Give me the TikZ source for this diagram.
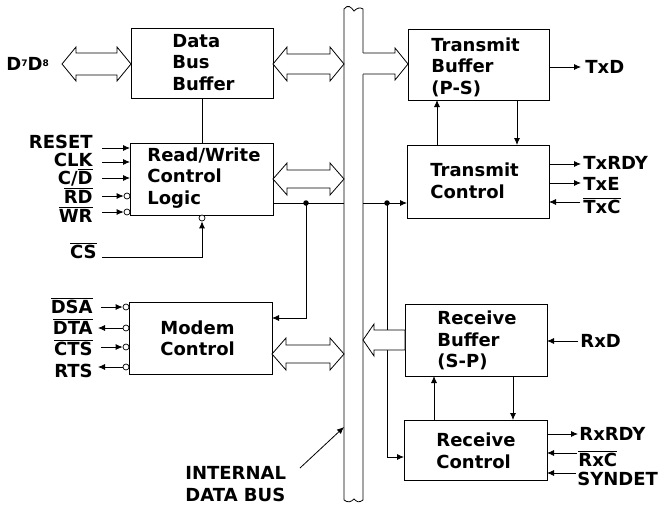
\documentclass[tikz,border=0pt]{standalone}
\usepackage{fontspec}
\setmainfont{DejaVu Sans}
\usetikzlibrary{arrows.meta}
\begin{document}
\begin{tikzpicture}[x=1pt,y=-1pt, line width=0.8pt,
  box/.style={draw, line width=1pt, anchor=north west, inner sep=0pt, outer sep=0pt},
  txt/.style={font=\fontsize{18}{21.5}\selectfont\bfseries, align=left, inner sep=0pt, anchor=west},
  lab/.style={font=\fontsize{18}{21}\selectfont\bfseries, inner sep=0pt},
  sig/.style={-{Latex[length=7pt,width=6pt]}},
  bub/.style={draw, fill=white, circle, minimum size=6pt, inner sep=0pt, line width=0.7pt},
  dot/.style={fill, circle, minimum size=5.5pt, inner sep=0pt},
  wide/.style={draw, fill=white, line width=0.8pt, line join=miter}]
\useasboundingbox (0,0) rectangle (666,506);

% boxes (named)
\node[box, minimum width=142pt, minimum height=70pt] (dbb) at (131,28) {};
\node[box, minimum width=143pt, minimum height=72pt] (rw) at (130,143) {};
\node[box, minimum width=143pt, minimum height=72pt] (mc) at (129,302) {};
\node[box, minimum width=141pt, minimum height=71pt] (tb) at (408,29) {};
\node[box, minimum width=142pt, minimum height=73pt] (tc) at (407,145) {};
\node[box, minimum width=142pt, minimum height=72pt] (rb) at (405,304) {};
\node[box, minimum width=143pt, minimum height=60pt] (rc) at (404,420) {};

% internal bus
\fill[white] (344,9) rectangle (363,500);
\draw (344,500) -- (344,9) .. controls (348,4) and (351,7) .. (354,11) .. controls (357,8) and (360,7) .. (363,9) -- (363,53);
\draw (363,74) -- (363,500) .. controls (359,503) and (357,502) .. (354,499) .. controls (351,502) and (348,503) .. (344,500);

% internal connections
\draw (dbb.south -| 202,0) -- (rw.north -| 202,0);
\draw (rw.east |- 0,203) -- (344,203);
\node[dot] (d1) at (306,203) {};
\draw[sig] (d1.center) -- (306,318) -- (mc.east |- 0,318);
\draw[sig] (363,203) -- (tc.west |- 0,203);
\node[dot] (d2) at (387,203) {};
\draw[sig] (d2.center) -- (387,457) -- (rc.west |- 0,457);
\draw[sig] (tc.north -| 437,0) -- (tb.south -| 437,0);
\draw[sig] (tb.south -| 517,0) -- (tc.north -| 517,0);
\draw[sig] (rc.north -| 434,0) -- (rb.south -| 434,0);
\draw[sig] (rb.south -| 513,0) -- (rc.north -| 513,0);

% wide bus arrows
\draw[wide] (62,64) -- (76,47) -- (76,53) -- (117,53) -- (117,47) -- (131,64) -- (117,81) -- (117,75) -- (76,75) -- (76,81) -- cycle;
\draw[wide] (273,64) -- (287,47) -- (287,54) -- (330,54) -- (330,47) -- (344,64) -- (330,81) -- (330,74) -- (287,74) -- (287,81) -- cycle;
\draw[wide] (273,179) -- (287,163) -- (287,170) -- (330,170) -- (330,163) -- (344,179) -- (330,195) -- (330,188) -- (287,188) -- (287,195) -- cycle;
\draw[wide] (272,354) -- (286,338) -- (286,345) -- (330,345) -- (330,338) -- (344,354) -- (330,370) -- (330,363) -- (286,363) -- (286,370) -- cycle;
\fill[white] (361,53) -- (395,53) -- (395,48) -- (408,64) -- (395,80) -- (395,74) -- (361,74) -- cycle;
\draw[line join=miter] (363,53) -- (395,53) -- (395,48) -- (408,64) -- (395,80) -- (395,74) -- (363,74);
\draw[wide] (363,340) -- (374,324) -- (374,330) -- (405,330) -- (405,350) -- (374,350) -- (374,356) -- cycle;

% box texts
\node[txt] (dbbt) at (172,62.5) {Data\\Bus\\Buffer};
\node[txt] (rwt) at (147,178) {Read/Write\\Control\\Logic};
\node[txt] (mct) at (160,338.5) {Modem\\Control};
\node[txt] (tbt) at (431,67) {Transmit\\Buffer\\(P-S)};
\node[txt] (tct) at (430,181) {Transmit\\Control};
\node[txt] (rbt) at (437,340.5) {Receive\\Buffer\\(S-P)};
\node[txt] (rct) at (436,451) {Receive\\Control};

% data bus pins
\node[lab, anchor=west] (dlab) at (6,64) {D\raisebox{4pt}{\fontsize{9}{9}\selectfont 7}D\raisebox{4pt}{\fontsize{9}{9}\selectfont 8}};

% read/write pins
\node[lab, anchor=base east] (reset) at (93,148) {RESET};
\node[lab, anchor=base east] (clk) at (93,166) {CLK};
\node[lab, anchor=base east] (cd) at (93,184) {C/$\overline{\mbox{D}}$};
\node[lab, anchor=base east] (rd) at (93,203) {$\overline{\mbox{RD}}$};
\node[lab, anchor=base east] (wr) at (93,222) {$\overline{\mbox{WR}}$};
\draw[sig] (102,148) -- (rw.west |- 0,148);
\draw[sig] (102,162) -- (rw.west |- 0,162);
\draw[sig] (102,178) -- (rw.west |- 0,178);
\node[bub] (b1) at (127,196) {};
\node[bub] (b2) at (127,212) {};
\draw[sig] (102,196) -- (b1.west);
\draw[sig] (102,212) -- (b2.west);
\node[lab, anchor=base east] (cs) at (97,258) {$\overline{\mbox{CS}}$};
\node[bub] (b3) at (202,218) {};
\draw[sig] (102,257) -- (202,257) -- (b3.south);

% modem pins
\node[lab, anchor=base east] (dsa) at (93,313) {$\overline{\mbox{DSA}}$};
\node[lab, anchor=base east] (dta) at (93,334) {$\overline{\mbox{DTA}}$};
\node[lab, anchor=base east] (cts) at (93,355) {$\overline{\mbox{CTS}}$};
\node[lab, anchor=base east] (rts) at (93,377) {RTS};
\node[bub] (b4) at (126,307) {};
\node[bub] (b5) at (126,328) {};
\node[bub] (b6) at (126,347) {};
\node[bub] (b7) at (126,367) {};
\draw[sig] (101,307) -- (b4.west);
\draw[sig] (b5.west) -- (98,328);
\draw[sig] (101,347) -- (b6.west);
\draw[sig] (b7.west) -- (98,367);

% transmit pins
\node[lab, anchor=base west] (txd) at (585,73) {TxD};
\draw[sig] (tb.east |- 0,67) -- (581,67);
\node[lab, anchor=base west] (txrdy) at (583,169) {TxRDY};
\node[lab, anchor=base west] (txe) at (583,190) {TxE};
\node[lab, anchor=base west] (txc) at (583,213) {$\overline{\mbox{TxC}}$};
\draw[sig] (tc.east |- 0,164) -- (581,164);
\draw[sig] (tc.east |- 0,183) -- (581,183);
\draw[sig] (580,202) -- (tc.east |- 0,202);

% receive pins
\node[lab, anchor=base west] (rxd) at (580,347) {RxD};
\draw[sig] (578,341) -- (rb.east |- 0,341);
\node[lab, anchor=base west] (rxrdy) at (579,440) {RxRDY};
\node[lab, anchor=base west] (rxc) at (578,466) {$\overline{\mbox{RxC}}$};
\node[lab, anchor=base west] (syndet) at (577,485) {SYNDET};
\draw[sig] (rc.east |- 0,434) -- (578,434);
\draw[sig] (577,453) -- (rc.east |- 0,453);
\draw[sig] (576,473) -- (rc.east |- 0,473);

% internal data bus label
\node[lab, anchor=west, align=left, font=\fontsize{18}{22}\selectfont\bfseries] (idb) at (185,484) {INTERNAL\\DATA BUS};
\coordinate (idbp) at (300,468);
\draw[sig] (idbp) -- (344,427);
\end{tikzpicture}
\end{document}
